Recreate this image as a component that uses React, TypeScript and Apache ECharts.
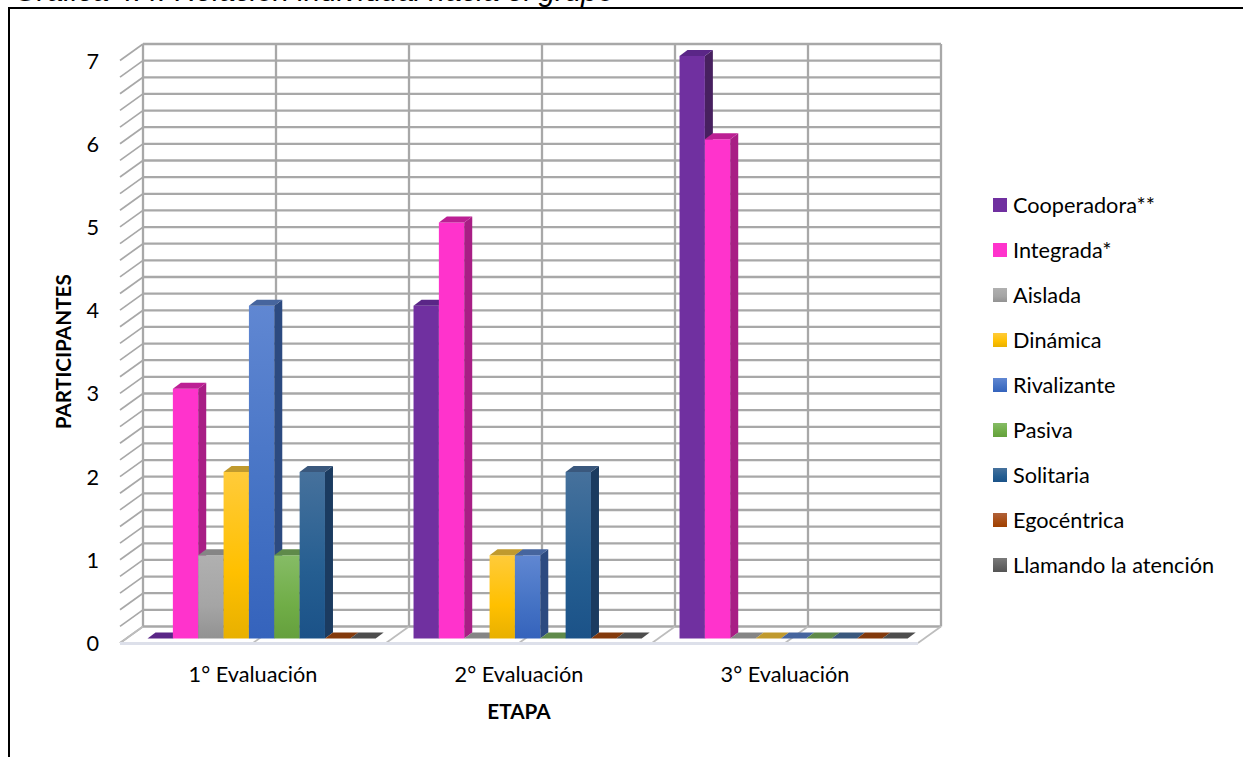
import React, { useEffect, useRef } from "react";
import * as echarts from "echarts";

const FONT = "Lato";

const categories = ["1° Evaluación", "2° Evaluación", "3° Evaluación"];
const seriesNames = [
  "Cooperadora**",
  "Integrada*",
  "Aislada",
  "Dinámica",
  "Rivalizante",
  "Pasiva",
  "Solitaria",
  "Egocéntrica",
  "Llamando la atención",
];

const cooperadora = [0, 4, 7];
const integrada = [3, 5, 6];
const aislada = [1, 0, 0];
const dinamica = [2, 1, 0];
const rivalizante = [4, 1, 0];
const pasiva = [1, 0, 0];
const solitaria = [2, 2, 0];
const egocentrica = [0, 0, 0];
const llamando = [0, 0, 0];
const seriesValues = [cooperadora, integrada, aislada, dinamica, rivalizante, pasiva, solitaria, egocentrica, llamando];

// Face colours for each series: front gradient stops, top face, side face.
const frontStops = [
  ["#7030A0", "#7030A0", "#7030A0"],
  ["#FF33CC", "#FF33CC", "#FF33CC"],
  ["#B0B0B0", "#A5A5A5", "#929292"],
  ["#FFCB3A", "#FFC000", "#E8B000"],
  ["#6087D2", "#4472C4", "#3563BC"],
  ["#86BC66", "#70AD47", "#65A03D"],
  ["#46719C", "#255E91", "#1B5288"],
  ["#B0613A", "#A84C12", "#9E3F00"],
  ["#7A7A7A", "#636363", "#555555"],
];
const topColors = ["#5A2687", "#BC1F94", "#858585", "#C09A2E", "#46659E", "#5F8A4A", "#3A587D", "#833A0C", "#4D4D4D"];
const sideColors = ["#47205F", "#A81E85", "#6E6E6E", "#A8861E", "#2C4A80", "#4E7438", "#1B3B60", "#6E3008", "#3C3C3C"];

// Horizontal rules on the back wall, in participants.
const wallTicks = [
  0, 0.2, 0.4, 0.6, 0.8, 1, 1.2, 1.4, 1.6, 1.8, 2, 2.2, 2.4, 2.6, 2.8, 3, 3.2, 3.4,
  3.6, 3.8, 4, 4.2, 4.4, 4.6, 4.8, 5, 5.2, 5.4, 5.6, 5.8, 6, 6.2, 6.4, 6.6, 6.8, 7,
];
// Vertical rules, counted in half categories from the left of the plot.
const wallColumns = [0, 1, 2, 3, 4, 5, 6];

const WALL_DX = 23;
const WALL_DY = -16.5;
const BAR_DX = 8.6;
const BAR_DY = -4.5;
const CAP_DX = 8;
const CAP_DY = -6;
const BAR_WIDTH = 25.35;
const GRID_COLOR = "#A8A8A8";

const gradientOf = (stops: string[]) =>
  new echarts.graphic.LinearGradient(0, 0, 0, 1, [
    { offset: 0, color: stops[0] },
    { offset: 0.6, color: stops[1] },
    { offset: 1, color: stops[2] },
  ]);

const gridLine = (x1: number, y1: number, x2: number, y2: number, width = 2.3, stroke = GRID_COLOR) => ({
  type: "line",
  shape: { x1, y1, x2, y2 },
  style: { stroke, lineWidth: width },
});

const renderTickRule = (params: any, api: any) => {
  const cs = params.coordSys;
  const y = api.coord([0, api.value(1)])[1];
  return {
    type: "group",
    children: [
      gridLine(cs.x, y, cs.x + WALL_DX, y + WALL_DY, 1.7),
      gridLine(cs.x + WALL_DX, y + WALL_DY, cs.x + cs.width + WALL_DX, y + WALL_DY),
    ],
  };
};

const renderColumnRule = (params: any, api: any) => {
  const cs = params.coordSys;
  const band = api.size([1, 0])[0];
  const x = cs.x + (api.value(0) * band) / 2;
  const yBottom = cs.y + cs.height;
  return {
    type: "group",
    children: [
      gridLine(x + WALL_DX, cs.y + WALL_DY, x + WALL_DX, yBottom + WALL_DY),
      gridLine(x, yBottom, x + WALL_DX, yBottom + WALL_DY, 1.7, "#BDBDBD"),
    ],
  };
};

const renderFloorEdge = (params: any) => {
  const cs = params.coordSys;
  const y = cs.y + cs.height;
  return gridLine(cs.x, y + 0.5, cs.x + cs.width, y + 0.5, 3, "#DDE0EA");
};

const renderBar = (index: number) => (_params: any, api: any) => {
  const [cx, yTop] = api.coord([api.value(0), api.value(1)]);
  const yBase = api.coord([api.value(0), 0])[1] + BAR_DY;
  const top = yTop + BAR_DY;
  const left = cx + BAR_DX + (index - 4.5) * BAR_WIDTH;
  const right = left + BAR_WIDTH;
  const children: any[] = [];
  if (api.value(1) > 0) {
    children.push({
      type: "polygon",
      shape: { points: [[left, top], [right, top], [right, yBase], [left, yBase]] },
      style: { fill: gradientOf(frontStops[index]) },
    });
    children.push({
      type: "polygon",
      shape: {
        points: [
          [right, top],
          [right + CAP_DX, top + CAP_DY],
          [right + CAP_DX, yBase + CAP_DY],
          [right, yBase],
        ],
      },
      style: { fill: sideColors[index] },
    });
  }
  children.push({
    type: "polygon",
    shape: {
      points: [
        [left, top],
        [right, top],
        [right + CAP_DX, top + CAP_DY],
        [left + CAP_DX, top + CAP_DY],
      ],
    },
    style: { fill: topColors[index] },
  });
  return { type: "group", children };
};

export default function App() {
  const ref = useRef<HTMLDivElement>(null);

  useEffect(() => {
    const chart = echarts.init(ref.current!, undefined, { renderer: "svg" });
    const axisText = { fontFamily: FONT, fontSize: 21.7, color: "#000000" };
    const nameText = { fontFamily: FONT, fontSize: 20.7, fontWeight: "bold" as const, color: "#000000" };

    chart.setOption({
      animation: false,
      backgroundColor: "#FFFFFF",
      grid: { left: 120, top: 60.5, width: 798, height: 582.5, containLabel: false },
      xAxis: {
        type: "category",
        data: categories,
        axisLine: { show: false },
        axisTick: { show: false },
        splitLine: { show: false },
        axisLabel: { ...axisText, margin: 20 },
        name: "ETAPA",
        nameLocation: "middle",
        nameGap: 57,
        nameTextStyle: nameText,
      },
      yAxis: {
        type: "value",
        min: 0,
        max: 7,
        interval: 1,
        axisLine: { show: false },
        axisTick: { show: false },
        splitLine: { show: false },
        axisLabel: { ...axisText, margin: 21 },
        name: "PARTICIPANTES",
        nameLocation: "middle",
        nameGap: 47,
        nameTextStyle: nameText,
      },
      legend: {
        show: true,
        orient: "vertical",
        left: 988,
        top: 189,
        icon: "rect",
        itemWidth: 14,
        itemHeight: 14,
        itemGap: 23,
        data: seriesNames,
        selectedMode: false,
        textStyle: { fontFamily: FONT, fontSize: 21.7, color: "#000000", lineHeight: 20, padding: [0, 0, 0, 1] },
      },
      graphic: [
        {
          type: "text",
          x: 14,
          y: -25,
          silent: true,
          style: {
            text: "Gráfica 4.4. Relación individual hacia el grupo",
            fontFamily: "Liberation Sans",
            fontStyle: "italic",
            fontSize: 29.5,
            fill: "#000000",
          },
        },
        { type: "rect", shape: { x: 8, y: 7, width: 1235, height: 2 }, style: { fill: "#000000" } },
        { type: "rect", shape: { x: 8, y: 7, width: 2, height: 750 }, style: { fill: "#000000" } },
      ],
      series: [
        {
          type: "custom",
          name: "Reglas horizontales",
          silent: true,
          clip: false,
          renderItem: renderTickRule,
          data: wallTicks.map((t) => [0, t]),
          encode: { x: 0, y: 1 },
        },
        {
          type: "custom",
          name: "Reglas verticales",
          silent: true,
          clip: false,
          renderItem: renderColumnRule,
          data: wallColumns.map((c) => [c, 0]),
          encode: { x: 0, y: 1 },
        },
        {
          type: "custom",
          name: "Borde del piso",
          silent: true,
          clip: false,
          renderItem: renderFloorEdge,
          data: [[0, 0]],
          encode: { x: 0, y: 1 },
        },
        ...seriesNames.map((name, i) => ({
          type: "custom",
          name,
          silent: true,
          clip: false,
          itemStyle: { color: gradientOf(frontStops[i]) },
          renderItem: renderBar(i),
          data: seriesValues[i].map((v, c) => [c, v]),
          encode: { x: 0, y: 1 },
        })),
      ],
    });

    return () => chart.dispose();
  }, []);

  return (
    <div
      ref={ref}
      style={{ position: "fixed", left: 0, top: 0, width: 1243, height: 757, overflow: "hidden" }}
    />
  );
}
